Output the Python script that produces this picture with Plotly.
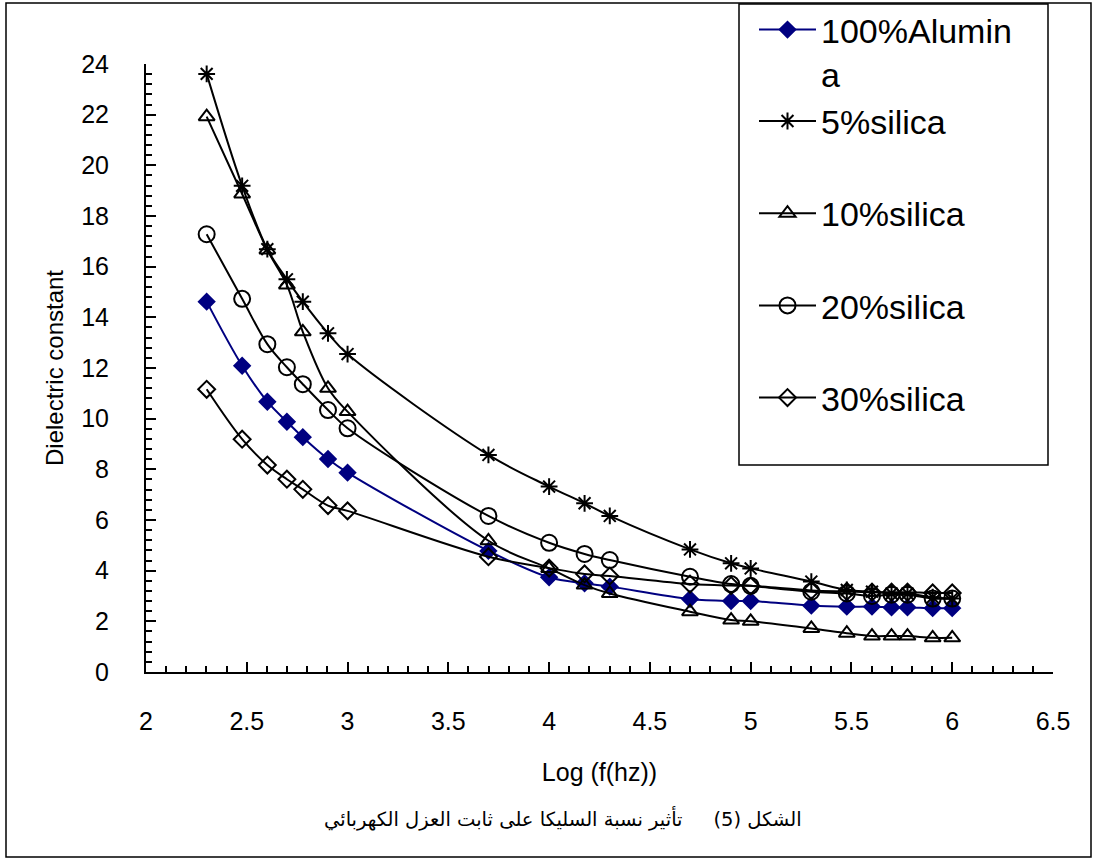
import plotly.graph_objects as go

# ---- data ----
log_f = [2.301, 2.477, 2.602, 2.699, 2.778, 2.903, 3.0, 3.699, 4.0, 4.176, 4.301,
         4.699, 4.903, 5.0, 5.301, 5.477, 5.602, 5.699, 5.778, 5.903, 6.0]

alumina_100 = [14.62, 12.09, 10.67, 9.88, 9.27, 8.41, 7.87, 4.78, 3.74, 3.50, 3.37,
               2.88, 2.80, 2.80, 2.62, 2.58, 2.58, 2.55, 2.55, 2.52, 2.52]
silica_5 = [23.61, 19.19, 16.69, 15.50, 14.62, 13.37, 12.55, 8.57, 7.32, 6.66, 6.16,
            4.84, 4.29, 4.09, 3.57, 3.24, 3.17, 3.10, 3.10, 2.95, 2.90]
silica_10 = [21.92, 18.87, 16.66, 15.28, 13.43, 11.20, 10.28, 5.18, 4.09, 3.43, 3.10,
             2.38, 2.05, 2.00, 1.72, 1.53, 1.42, 1.42, 1.42, 1.35, 1.35]
silica_20 = [17.28, 14.73, 12.94, 12.03, 11.36, 10.34, 9.62, 6.16, 5.10, 4.66, 4.42,
             3.76, 3.47, 3.40, 3.17, 3.10, 3.00, 3.05, 3.05, 2.90, 2.90]
silica_30 = [11.16, 9.19, 8.17, 7.61, 7.21, 6.57, 6.36, 4.55, 4.10, 3.87, 3.79,
             3.47, 3.41, 3.40, 3.22, 3.18, 3.15, 3.15, 3.15, 3.12, 3.12]

series_names = ["100%Alumin<br>a", "5%silica", "10%silica", "20%silica", "30%silica"]

x_ticks = [2, 2.5, 3, 3.5, 4, 4.5, 5, 5.5, 6, 6.5]
y_ticks = list(range(0, 25, 2))

caption = "الشكل (5)     تأثير نسبة السليكا على ثابت العزل الكهربائي"

# ---- layout geometry (pixels) ----
W, H = 1094, 859
ML, MR, MT, MB = 146, 41, 64, 187
PW, PH = W - ML - MR, H - MT - MB


def px_x(px):
    return (px - ML) / PW


def px_y(py):
    return (H - MB - py) / PH


FONT = "Arial, 'Liberation Sans', sans-serif"

fig = go.Figure()

styles = [
    dict(color="#000080", symbol="diamond", size=12, group="g1"),
    dict(color="black", symbol="asterisk-open", size=14, group="g1"),
    dict(color="black", symbol="triangle-up-open", size=14, group="g2"),
    dict(color="black", symbol="circle-open", size=16, group="g3"),
    dict(color="black", symbol="diamond-open", size=13, group="g4"),
]
values = [alumina_100, silica_5, silica_10, silica_20, silica_30]

for name, ys, st in zip(series_names, values, styles):
    fig.add_trace(go.Scatter(
        x=log_f, y=ys, name=name, mode="lines+markers",
        legendgroup=st["group"],
        line=dict(color=st["color"], width=2, shape="spline", smoothing=1.0),
        marker=dict(symbol=st["symbol"], size=st["size"], color=st["color"],
                    line=dict(color=st["color"], width=2)),
    ))

axis_common = dict(
    showgrid=False, zeroline=False, showline=True, linecolor="black", linewidth=2,
    ticks="inside", ticklen=10, tickwidth=2, tickcolor="black",
    tickfont=dict(family=FONT, size=25, color="black"),
    automargin=False,
)

fig.update_xaxes(
    range=[2, 6.5], tickvals=x_ticks, ticktext=[f"{v:g}" for v in x_ticks],
    minor=dict(dtick=0.1, tick0=2, ticklen=6, tickwidth=2, tickcolor="black", ticks="inside"),
    title=dict(text="Log (f(hz))", font=dict(family=FONT, size=25, color="black"), standoff=29),
    ticklabelstandoff=26,
    **axis_common,
)
fig.update_yaxes(
    range=[0, 24], tickvals=y_ticks,
    minor=dict(dtick=0.4, tick0=0, ticklen=6, tickwidth=2, tickcolor="black", ticks="inside"),
    title=dict(text="Dielectric constant", font=dict(family=FONT, size=24, color="black"), standoff=11),
    ticklabelstandoff=30,
    **axis_common,
)

fig.update_layout(
    width=W, height=H, autosize=False,
    margin=dict(l=ML, r=MR, t=MT, b=MB, pad=0, autoexpand=False),
    paper_bgcolor="white", plot_bgcolor="white",
    font=dict(family=FONT, color="black"),
    showlegend=True,
    legend=dict(
        x=px_x(754), y=px_y(1), xanchor="left", yanchor="top",
        bgcolor="rgba(0,0,0,0)", borderwidth=0,
        font=dict(family=FONT, size=34, color="black"),
        itemwidth=57, valign="top", tracegroupgap=45,
        traceorder="grouped", itemclick=False, itemdoubleclick=False,
    ),
    shapes=[
        # legend box
        dict(type="rect", xref="paper", yref="paper",
             x0=px_x(739), x1=px_x(1048), y0=px_y(465), y1=px_y(4),
             line=dict(color="black", width=1.5), fillcolor="rgba(0,0,0,0)"),
        # outer figure border
        dict(type="rect", xref="paper", yref="paper",
             x0=px_x(6), x1=px_x(1091), y0=px_y(857), y1=px_y(3),
             line=dict(color="black", width=1.5), fillcolor="rgba(0,0,0,0)"),
    ],
    annotations=[
        dict(text=caption, xref="paper", yref="paper",
             x=px_x(563), y=px_y(818), xanchor="center", yanchor="middle",
             showarrow=False,
             font=dict(family="'DejaVu Sans', Arial, sans-serif", size=19.5, color="black")),
    ],
)

fig.write_html("out.html")
